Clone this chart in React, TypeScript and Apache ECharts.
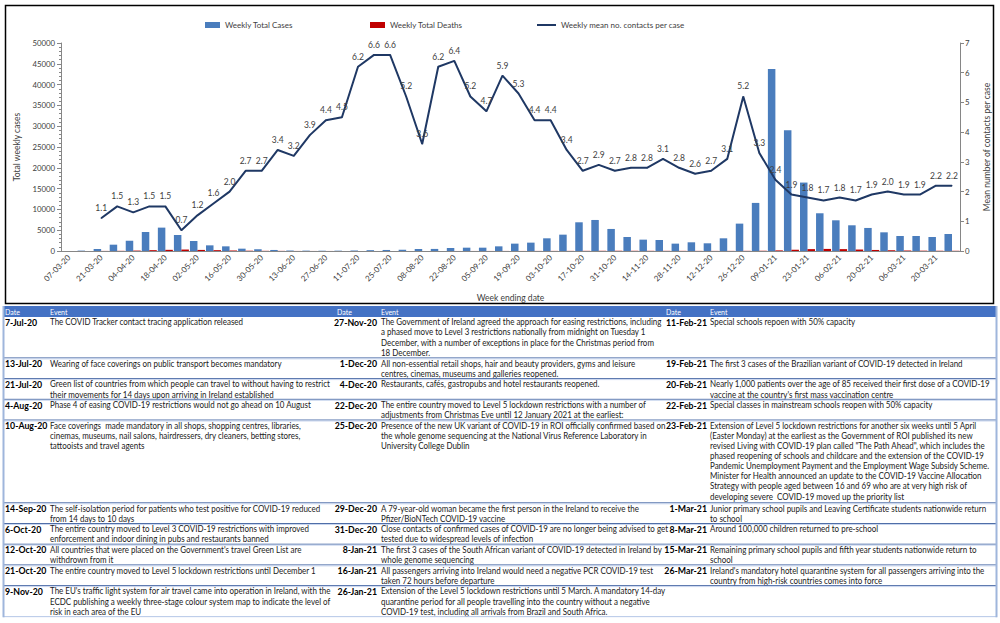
import React, { useEffect, useRef } from "react";
import * as echarts from "echarts";

const FONT = "Lato";

const weeks = [
  "07-03-20", "14-03-20", "21-03-20", "28-03-20", "04-04-20", "11-04-20", "18-04-20", "25-04-20",
  "02-05-20", "09-05-20", "16-05-20", "23-05-20", "30-05-20", "06-06-20", "13-06-20", "20-06-20",
  "27-06-20", "04-07-20", "11-07-20", "18-07-20", "25-07-20", "01-08-20", "08-08-20", "15-08-20",
  "22-08-20", "29-08-20", "05-09-20", "12-09-20", "19-09-20", "26-09-20", "03-10-20", "10-10-20",
  "17-10-20", "24-10-20", "31-10-20", "07-11-20", "14-11-20", "21-11-20", "28-11-20", "05-12-20",
  "12-12-20", "19-12-20", "26-12-20", "02-01-21", "09-01-21", "16-01-21", "23-01-21", "30-01-21",
  "06-02-21", "13-02-21", "20-02-21", "27-02-21", "06-03-21", "13-03-21", "20-03-21", "27-03-21",
];

const weeklyCases = [
  20, 90, 480, 1520, 2490, 4570, 5620, 3850,
  2400, 1360, 1120, 560, 400, 250, 120, 90,
  70, 80, 120, 200, 250, 300, 480, 500,
  720, 800, 800, 1120, 1770, 2010, 3050, 3930,
  6900, 7460, 5300, 3370, 2730, 2650, 1770, 2090,
  1850, 3050, 6580, 11560, 43740, 29050, 16450, 9070,
  7380, 6180, 5540, 4490, 3610, 3610, 3370, 4090,
];

const weeklyDeaths = [
  0, 2, 20, 40, 100, 200, 280, 350,
  260, 200, 120, 70, 40, 30, 15, 10,
  8, 5, 5, 4, 5, 4, 5, 6,
  8, 10, 12, 15, 15, 20, 25, 30,
  40, 50, 60, 50, 45, 40, 35, 30,
  25, 30, 40, 60, 150, 300, 450, 500,
  450, 350, 250, 180, 120, 80, 60, 50,
];

const meanContacts = [
  null, null, 1.1, 1.5, 1.3, 1.5, 1.5, 0.7,
  1.2, 1.6, 2.0, 2.7, 2.7, 3.4, 3.2, 3.9,
  4.4, 4.5, 6.2, 6.6, 6.6, 5.2, 3.6, 6.2,
  6.4, 5.2, 4.7, 5.9, 5.3, 4.4, 4.4, 3.4,
  2.7, 2.9, 2.7, 2.8, 2.8, 3.1, 2.8, 2.6,
  2.7, 3.1, 5.2, 3.3, 2.4, 1.9, 1.8, 1.7,
  1.8, 1.7, 1.9, 2.0, 1.9, 1.9, 2.2, 2.2,
];

const leftDates = ["7-Jul-20", "13-Jul-20", "21-Jul-20", "4-Aug-20", "10-Aug-20", "14-Sep-20", "6-Oct-20", "12-Oct-20", "21-Oct-20", "9-Nov-20"];
const leftEvents = [
  "The COVID Tracker contact tracing application released",
  "Wearing of face coverings on public transport becomes mandatory",
  "Green list of countries from which people can travel to without having to restrict\ntheir movements for 14 days upon arriving in Ireland established",
  "Phase 4 of easing COVID-19 restrictions would not go ahead on 10 August",
  "Face coverings  made mandatory in all shops, shopping centres, libraries,\ncinemas, museums, nail salons, hairdressers, dry cleaners, betting stores,\ntattooists and travel agents",
  "The self-isolation period for patients who test positive for COVID-19 reduced\nfrom 14 days to 10 days",
  "The entire country moved to Level 3 COVID-19 restrictions with improved\nenforcement and indoor dining in pubs and restaurants banned",
  "All countries that were placed on the Government's travel Green List are\nwithdrown from it",
  "The entire country moved to Level 5 lockdown restrictions until December 1",
  "The EU's traffic light system for air travel came into operation in Ireland, with the\nECDC publishing a weekly three-stage colour system map to indicate the level of\nrisk in each area of the EU",
];

const midDates = ["27-Nov-20", "1-Dec-20", "4-Dec-20", "22-Dec-20", "25-Dec-20", "29-Dec-20", "31-Dec-20", "8-Jan-21", "16-Jan-21", "26-Jan-21"];
const midEvents = [
  "The Government of Ireland agreed the approach for easing restrictions, including\na phased move to Level 3 restrictions nationally from midnight on Tuesday 1\nDecember, with a number of exceptions in place for the Christmas period from\n18 December.",
  "All non-essential retail shops, hair and beauty providers, gyms and leisure\ncentres, cinemas, museums and galleries reopened.",
  "Restaurants, cafés, gastropubs and hotel restaurants reopened.",
  "The entire country moved to Level 5 lockdown restrictions with a number of\nadjustments from Christmas Eve until 12 January 2021 at the earliest:",
  "Presence of the new UK variant of COVID-19 in ROI officially confirmed based on\nthe whole genome sequencing at the National Virus Reference Laboratory in\nUniversity College Dublin",
  "A 79-year-old woman became the first person in the Ireland to receive the\nPfizer/BioNTech COVID-19 vaccine",
  "Close contacts of confirmed cases of COVID-19 are no longer being advised to get\ntested due to widespread levels of infection",
  "The first 3 cases of the South African variant of COVID-19 detected in Ireland by\nwhole genome sequencing",
  "All passengers arriving into Ireland would need a negative PCR COVID-19 test\ntaken 72 hours before departure",
  "Extension of the Level 5 lockdown restrictions until 5 March. A mandatory 14-day\nquarantine period for all people travelling into the country without a negative\nCOVID-19 test, including all arrivals from Brazil and South Africa.",
];

const rightDates = ["11-Feb-21", "19-Feb-21", "20-Feb-21", "22-Feb-21", "23-Feb-21", "1-Mar-21", "8-Mar-21", "15-Mar-21", "26-Mar-21", ""];
const rightEvents = [
  "Special schools repoen with 50% capacity",
  "The first 3 cases of the Brazilian variant of COVID-19 detected in Ireland",
  "Nearly 1,000 patients over the age of 85 received their first dose of a COVID-19\nvaccine at the country's first mass vaccination centre",
  "Special classes in mainstream schools reopen with 50% capacity",
  "Extension of Level 5 lockdown restrictions for another six weeks until 5 April\n(Easter Monday) at the earliest as the Government of ROI published its new\nrevised Living with COVID-19 plan called \"The Path Ahead\", which includes the\nphased reopening of schools and childcare and the extension of the COVID-19\nPandemic Unemployment Payment and the Employment Wage Subsidy Scheme.\nMinister for Health announced an update to the COVID-19 Vaccine Allocation\nStrategy with people aged between 16 and 69 who are at very high risk of\ndeveloping severe  COVID-19 moved up the priority list",
  "Junior primary school pupils and Leaving Certificate students nationwide return\nto school",
  "Around 100,000 children returned to pre-school",
  "Remaining primary school pupils and fifth year students nationwide return to\nschool",
  "Ireland's mandatory hotel quarantine system for all passengers arriving into the\ncountry from high-risk countries comes into force",
  "",
];

export default function App() {
  const ref = useRef<HTMLDivElement>(null);

  useEffect(() => {
    document.body.style.margin = "0";
    const chart = echarts.init(ref.current!, null, { renderer: "svg" });

    const ctx = document.createElement("canvas").getContext("2d")!;
    const mw = (t: string, f: string) => {
      ctx.font = f;
      return ctx.measureText(t).width;
    };
    const evFS = 8.6;
    const evFont = `${evFS}px ${FONT}`;
    const dtFont = `bold ${evFS}px ${FONT}`;
    const sE = 281 / mw(midEvents[0].split("\n")[0], evFont);
    const sD = 43 / mw(midDates[0], dtFont);

    const groups = [
      { dates: leftDates, events: leftEvents, dateX: 5, align: "left", evX: 50, hDate: 5 },
      { dates: midDates, events: midEvents, dateX: 377, align: "right", evX: 381, hDate: 337 },
      { dates: rightDates, events: rightEvents, dateX: 707, align: "right", evX: 710, hDate: 666 },
    ];

    const LH = 10.35;
    const TLH = 10.1;
    const tableTop = 306;
    const headH = 11;
    const tableL = 3;
    const tableR = 997;
    const graphics: any[] = [];

    graphics.push({
      type: "rect",
      shape: { x: 5.5, y: 5.5, width: 988, height: 298 },
      style: { fill: "none", stroke: "#000", lineWidth: 1.5 },
    });
    graphics.push({
      type: "rect",
      shape: { x: tableL, y: tableTop, width: tableR - tableL, height: headH },
      style: { fill: "#4472c4" },
    });
    groups.forEach((g) => {
      graphics.push({
        type: "text", x: g.hDate, y: tableTop + headH / 2,
        style: { text: "Date", fontSize: 7, fontFamily: FONT, fill: "#fff", verticalAlign: "middle" },
      });
      graphics.push({
        type: "text", x: g.evX, y: tableTop + headH / 2,
        style: { text: "Event", fontSize: 7, fontFamily: FONT, fill: "#fff", verticalAlign: "middle" },
      });
    });

    let y = tableTop + headH;
    for (let r = 0; r < leftDates.length; r++) {
      const lines = Math.max(
        ...groups.map((g) => (g.events[r] ? g.events[r].split("\n").length : 1))
      );
      const h = Math.max(2, lines) * LH;
      groups.forEach((g) => {
        if (g.dates[r]) {
          graphics.push({
            type: "text", x: g.dateX, y: y + 0.2, scaleX: sD,
            style: {
              text: g.dates[r], fontSize: evFS, fontWeight: "bold", fontFamily: FONT,
              fill: "#000", align: g.align, verticalAlign: "top", lineHeight: TLH,
            },
          });
        }
        if (g.events[r]) {
          graphics.push({
            type: "text", x: g.evX, y: y + 0.2, scaleX: sE,
            style: {
              text: g.events[r], fontSize: evFS, fontFamily: FONT, fill: "#1a1a1a",
              verticalAlign: "top", lineHeight: TLH,
            },
          });
        }
      });
      y += h;
      graphics.push({
        type: "line",
        shape: { x1: tableL, y1: y - 0.5, x2: tableR, y2: y - 0.5 },
        style: { stroke: r === leftDates.length - 1 ? "#b4c6e7" : "#4f6ea8", lineWidth: 1 },
      });
      if (r < leftDates.length - 1) {
        graphics.push({
          type: "line",
          shape: { x1: tableL, y1: y + 0.5, x2: tableR, y2: y + 0.5 },
          style: { stroke: "#c9d6ee", lineWidth: 1 },
        });
      }
    }
    graphics.push({
      type: "line",
      shape: { x1: tableL + 0.5, y1: tableTop, x2: tableL + 0.5, y2: y },
      style: { stroke: "#9fb6dc", lineWidth: 2 },
    });
    graphics.push({
      type: "line",
      shape: { x1: tableR - 0.5, y1: tableTop, x2: tableR - 0.5, y2: y },
      style: { stroke: "#9fb6dc", lineWidth: 2 },
    });

    const axisColor = "#868686";
    const labelColor = "#404040";
    const legendText = { fontSize: 8, fontFamily: FONT, color: "#404040" };
    const nameStyle = { fontSize: 8.5, color: labelColor, fontFamily: FONT };

    chart.setOption({
      animation: false,
      textStyle: { fontFamily: FONT },
      legend: [
        {
          data: [{ name: "Weekly Total Cases", icon: "rect" }],
          left: 205, top: 21, padding: 0, itemWidth: 15, itemHeight: 6, itemGap: 4, textStyle: legendText,
        },
        {
          data: [{ name: "Weekly Total Deaths", icon: "rect" }],
          left: 370, top: 21, padding: 0, itemWidth: 15, itemHeight: 6, itemGap: 4, textStyle: legendText,
        },
        {
          data: [{ name: "Weekly mean no. contacts per case", icon: "rect" }],
          left: 537, top: 21, padding: 0, itemWidth: 19, itemHeight: 2, itemGap: 4, textStyle: legendText,
        },
      ],
      grid: { left: 61, right: 40, top: 43, height: 208, containLabel: false },
      xAxis: {
        type: "category",
        data: weeks,
        name: "Week ending date",
        nameLocation: "middle",
        nameGap: 42,
        nameTextStyle: nameStyle,
        axisLine: { lineStyle: { color: axisColor } },
        axisTick: { interval: 1, length: 4, lineStyle: { color: axisColor } },
        axisLabel: { interval: 1, rotate: 45, fontSize: 8, color: labelColor, margin: 5 },
      },
      yAxis: [
        {
          type: "value",
          min: 0,
          max: 50000,
          interval: 5000,
          name: "Total weekly cases",
          nameLocation: "middle",
          nameRotate: 90,
          nameGap: 36,
          nameTextStyle: nameStyle,
          axisLine: { show: true, lineStyle: { color: axisColor } },
          axisTick: { show: true, length: 4, lineStyle: { color: axisColor } },
          minorTick: { show: true, splitNumber: 5, length: 2, lineStyle: { color: axisColor } },
          splitLine: { show: false },
          axisLabel: { fontSize: 7.8, color: labelColor, margin: 6, formatter: (v: number) => String(v) },
        },
        {
          type: "value",
          min: 0,
          max: 7,
          interval: 1,
          position: "right",
          name: "Mean number of contacts per case",
          nameLocation: "middle",
          nameRotate: 90,
          nameGap: 22,
          nameTextStyle: nameStyle,
          axisLine: { show: true, lineStyle: { color: axisColor } },
          axisTick: { show: true, length: 4, lineStyle: { color: axisColor } },
          splitLine: { show: false },
          axisLabel: { fontSize: 7.8, color: labelColor, margin: 5 },
        },
      ],
      series: [
        {
          name: "Weekly Total Cases",
          type: "bar",
          data: weeklyCases,
          barWidth: 7.5,
          barGap: "0%",
          itemStyle: { color: "#4a7dbd" },
        },
        {
          name: "Weekly Total Deaths",
          type: "bar",
          data: weeklyDeaths,
          barWidth: 7.5,
          itemStyle: { color: "#c00000" },
        },
        {
          name: "Weekly mean no. contacts per case",
          type: "line",
          yAxisIndex: 1,
          data: meanContacts,
          symbol: "circle",
          symbolSize: 1,
          showSymbol: true,
          lineStyle: { color: "#1f3864", width: 2 },
          itemStyle: { color: "#1f3864" },
          label: {
            show: true,
            position: "top",
            distance: 5,
            fontSize: 8.5,
            color: labelColor,
            formatter: (p: any) => (p.value == null ? "" : Number(p.value).toFixed(1)),
          },
        },
      ],
      graphic: graphics,
    });

    return () => chart.dispose();
  }, []);

  return <div ref={ref} style={{ width: 1000, height: 623 }} />;
}
